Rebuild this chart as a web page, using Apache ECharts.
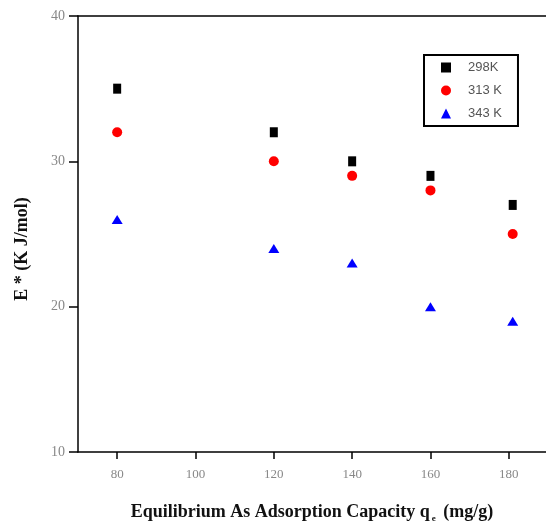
<!DOCTYPE html>
<html><head><meta charset="utf-8">
<script src="https://cdn.jsdelivr.net/npm/echarts@6/dist/echarts.min.js"></script>
<style>html,body{margin:0;padding:0;background:#fff}#c{width:546px;height:527px}</style>
</head><body><div id="c"></div>
<script>
const xValues = [80, 120, 140, 160, 181];
const e298 = [35, 32, 30, 29, 27];
const e313 = [32, 30, 29, 28, 25];
const e343 = [26, 24, 23, 20, 19];
const seriesNames = ['298K', '313 K', '343 K'];
const xTicks = [80, 100, 120, 140, 160, 180];

const pairs = v => xValues.map((x, i) => [x, v[i]]);
const chart = echarts.init(document.getElementById('c'));
chart.setOption({
  animation: false,
  backgroundColor: '#fff',
  grid: { left: 78, top: 16, right: 0, bottom: 75, outerBoundsMode: 'none', containLabel: false },
  legend: {
    orient: 'vertical', left: 424, top: 55, width: 95,
    data: seriesNames,
    borderColor: '#000', borderWidth: 2, padding: [6, 16, 6, 17],
    itemWidth: 10, itemHeight: 10, itemGap: 10,
    textStyle: { fontFamily: 'Liberation Sans', fontSize: 13, color: '#555', padding: [0, 0, 0, 12] }
  },
  xAxis: [{
    type: 'value', min: 70, max: 189.5,
    axisLine: { lineStyle: { color: '#000', width: 1.5 } },
    axisTick: { length: 7, customValues: xTicks, lineStyle: { color: '#000', width: 1.5 } },
    splitLine: { show: false },
    axisLabel: { margin: 16, customValues: xTicks, fontFamily: 'Liberation Serif', fontSize: 13, color: '#888' },
    name: '{b|Equilibrium As Adsorption Capacity q}{s|e}{b| (mg/g)}',
    nameLocation: 'middle', nameGap: 50,
    nameTextStyle: { rich: {
      b: { fontFamily: 'Liberation Serif', fontWeight: 'bold', fontSize: 18, color: '#111' },
      s: { fontFamily: 'Liberation Serif', fontWeight: 'bold', fontSize: 9, color: '#111', verticalAlign: 'bottom', padding: [12, 3, 0, 2] }
    } }
  }, {
    type: 'value', min: 70, max: 189.5, position: 'top',
    axisLine: { show: true, lineStyle: { color: '#000', width: 1.5 } },
    axisTick: { show: false }, axisLabel: { show: false }, splitLine: { show: false }
  }],
  yAxis: {
    type: 'value', min: 10, max: 40, interval: 10,
    axisLine: { lineStyle: { color: '#000', width: 1.5 } },
    axisTick: { length: 9, lineStyle: { color: '#000', width: 1.5 } },
    splitLine: { show: false },
    axisLabel: { margin: 13, fontFamily: 'Liberation Serif', fontSize: 14, color: '#888' },
    name: 'E * (K J/mol)', nameLocation: 'middle', nameGap: 47,
    nameTextStyle: { fontFamily: 'Liberation Serif', fontWeight: 'bold', fontSize: 18, color: '#111', padding: [0, 0, 0, -30] }
  },
  series: [
    { name: seriesNames[0], type: 'scatter', symbol: 'rect', symbolSize: [8, 10], itemStyle: { color: '#000', opacity: 1 }, data: pairs(e298) },
    { name: seriesNames[1], type: 'scatter', symbol: 'circle', symbolSize: 10, itemStyle: { color: '#ff0000', opacity: 1 }, data: pairs(e313) },
    { name: seriesNames[2], type: 'scatter', symbol: 'triangle', symbolSize: [11, 9], itemStyle: { color: '#0000ff', opacity: 1 }, data: pairs(e343) }
  ]
});
</script></body></html>
